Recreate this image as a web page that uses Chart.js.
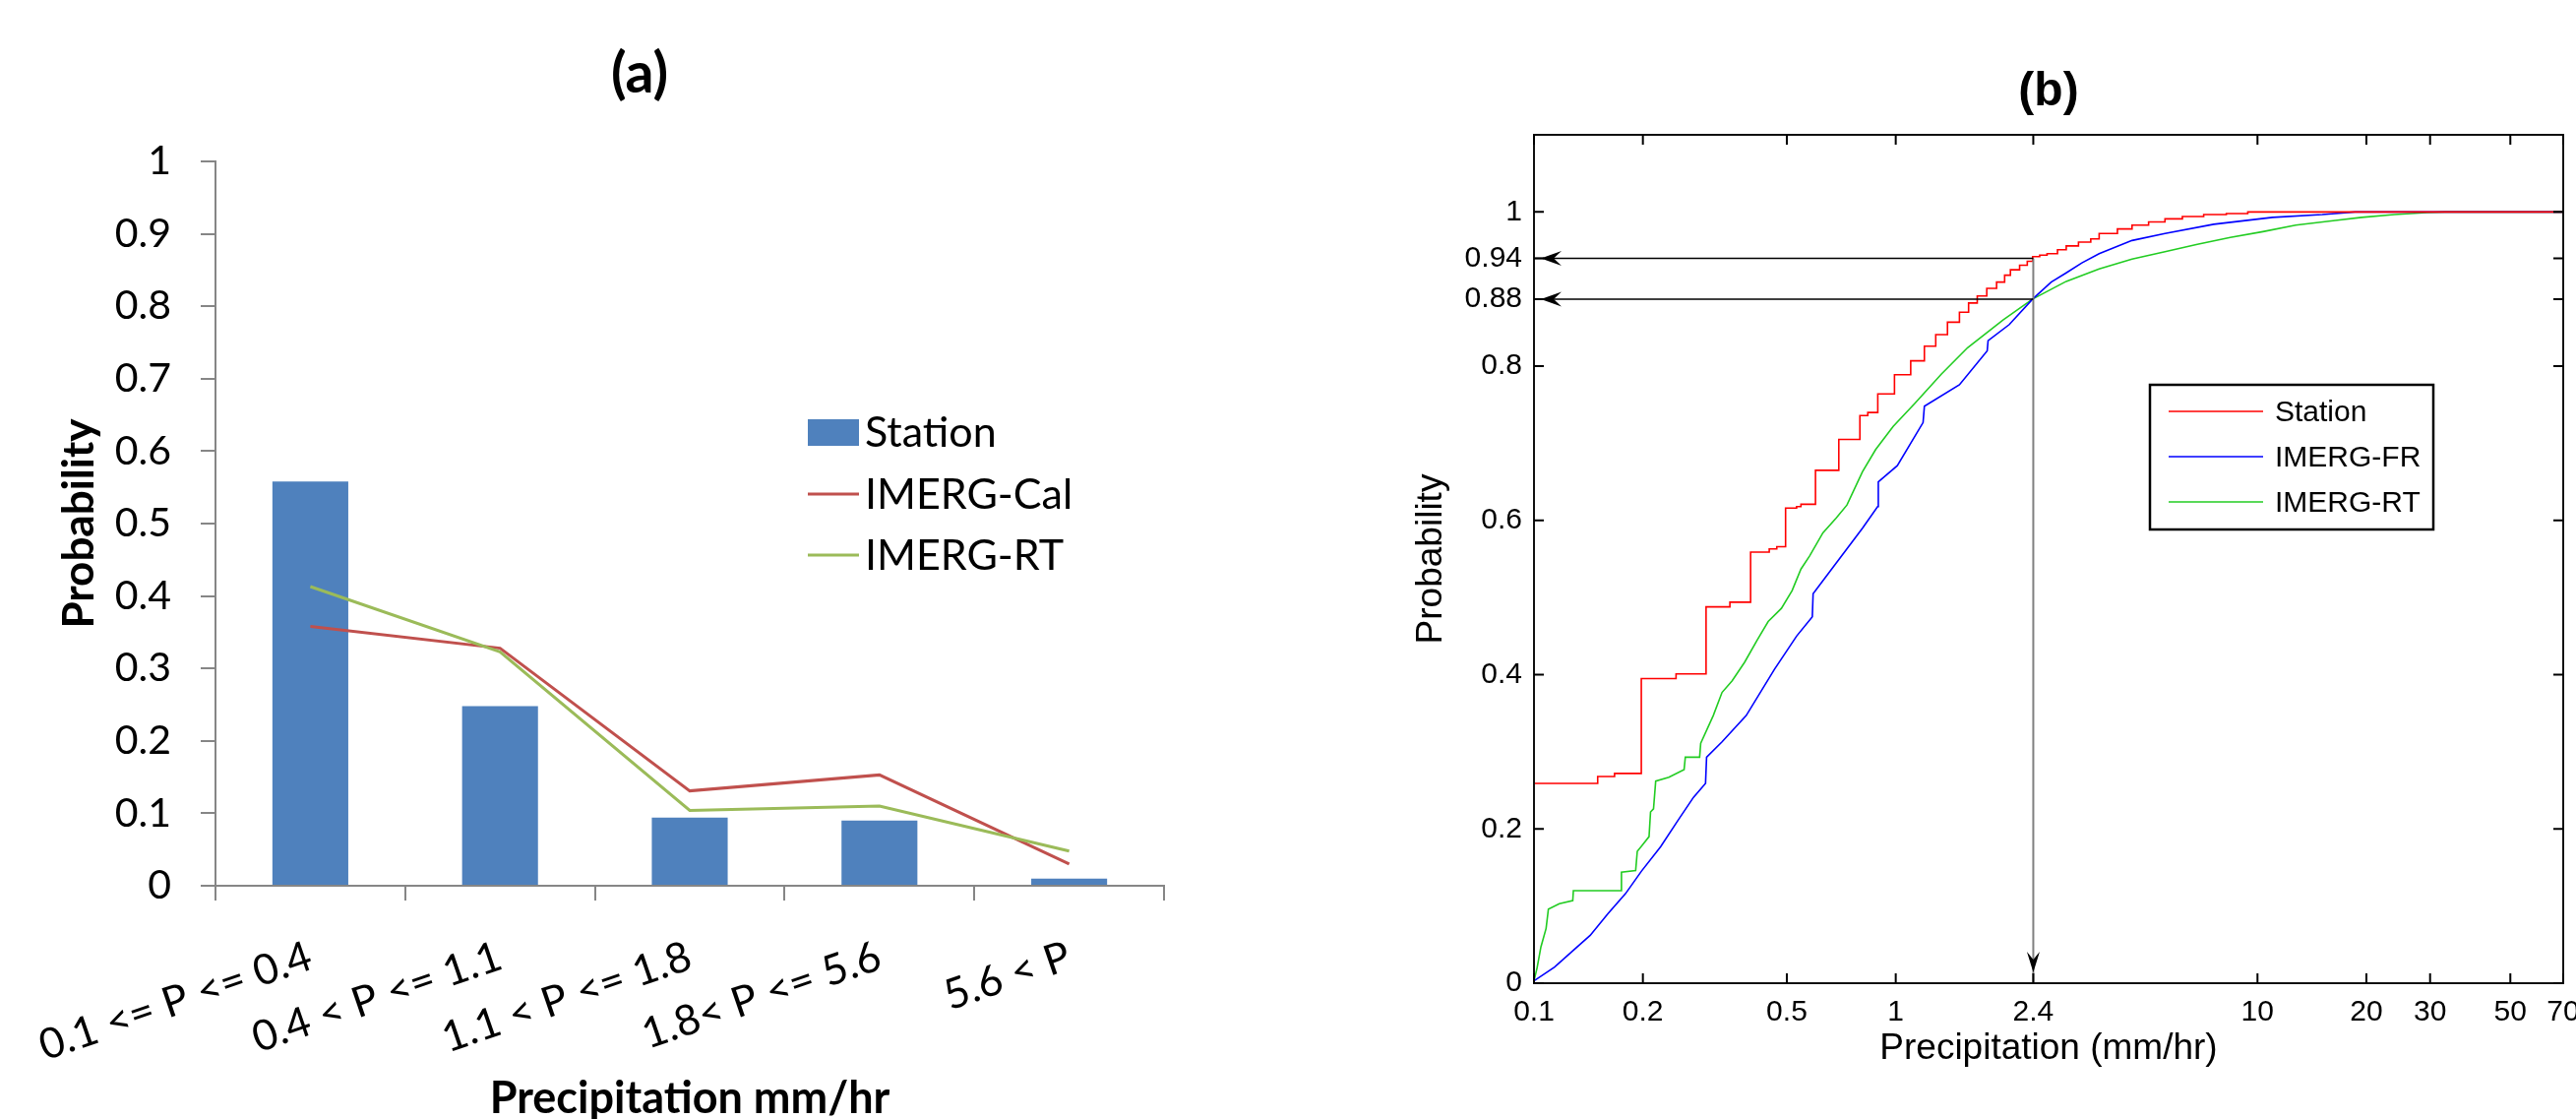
<!DOCTYPE html>
<html><head><meta charset="utf-8">
<script src="https://cdn.jsdelivr.net/npm/chart.js@4.4.1/dist/chart.umd.min.js"></script>
<style>
html,body{margin:0;padding:0;background:#fff;overflow:hidden;width:2618px;height:1137px;}
#wa{position:absolute;left:0;top:0;width:1300px;height:1137px;}
#wb{position:absolute;left:1300px;top:0;width:1318px;height:1137px;}
canvas{display:block;}
</style></head><body>
<div id="wa"><canvas id="ca" width="1300" height="1137"></canvas></div>
<div id="wb"><canvas id="cb" width="1318" height="1137"></canvas></div>
<script>
// ---------- Panel (a) data ----------
const categoriesA = ['0.1 <= P <= 0.4', '0.4 < P <= 1.1', '1.1 < P <= 1.8', '1.8< P <= 5.6', '5.6 < P'];
const stationA = [0.558, 0.248, 0.094, 0.090, 0.010];
const imergCalA = [0.358, 0.328, 0.131, 0.153, 0.030];
const imergRtA = [0.413, 0.323, 0.104, 0.110, 0.048];
const yTicksA = [0, 0.1, 0.2, 0.3, 0.4, 0.5, 0.6, 0.7, 0.8, 0.9, 1];

// ---------- Panel (b) data (x = precipitation mm/hr, y = cumulative probability) ----------
const stationB = [[0.1,0],[0.1,0.259],[0.15,0.268],[0.167,0.272],[0.198,0.395],[0.247,0.401],[0.299,0.488],[0.348,0.494],[0.397,0.559],[0.447,0.563],[0.469,0.566],[0.496,0.616],[0.532,0.618],[0.547,0.621],[0.600,0.665],[0.696,0.705],[0.796,0.736],[0.837,0.740],[0.892,0.764],[0.992,0.789],[1.10,0.807],[1.20,0.826],[1.29,0.841],[1.39,0.857],[1.50,0.870],[1.59,0.882],[1.68,0.891],[1.785,0.901],[1.90,0.909],[2.0,0.918],[2.075,0.925],[2.20,0.931],[2.31,0.936],[2.39,0.942],[2.5,0.944],[2.62,0.946],[2.8,0.951],[2.96,0.956],[3.2,0.961],[3.46,0.965],[3.65,0.972],[4.1,0.978],[4.5,0.983],[5.0,0.987],[5.55,0.991],[6.2,0.994],[7.1,0.9966],[8.2,0.998],[9.4,1.0],[70,1.0]];
const imergFrB = [[0.1,0.003],[0.114,0.021],[0.128,0.042],[0.143,0.062],[0.160,0.090],[0.179,0.116],[0.198,0.145],[0.224,0.177],[0.250,0.211],[0.276,0.241],[0.298,0.259],[0.300,0.293],[0.331,0.313],[0.386,0.347],[0.462,0.407],[0.532,0.450],[0.588,0.475],[0.591,0.505],[0.703,0.552],[0.809,0.590],[0.891,0.618],[0.895,0.650],[1.01,0.671],[1.19,0.727],[1.20,0.748],[1.50,0.776],[1.79,0.820],[1.80,0.833],[2.06,0.854],[2.39,0.887],[2.69,0.909],[2.96,0.921],[3.27,0.934],[3.65,0.946],[4.50,0.963],[5.55,0.972],[7.57,0.984],[11.0,0.993],[15.1,0.9966],[18.6,1.0],[70,1.0]];
const imergRtB = [[0.1,0.003],[0.102,0.020],[0.1045,0.047],[0.108,0.071],[0.1096,0.096],[0.1175,0.103],[0.128,0.107],[0.1285,0.120],[0.174,0.120],[0.1745,0.144],[0.191,0.146],[0.193,0.171],[0.20,0.180],[0.208,0.190],[0.210,0.222],[0.214,0.226],[0.217,0.262],[0.236,0.267],[0.26,0.277],[0.262,0.293],[0.287,0.293],[0.289,0.311],[0.313,0.347],[0.331,0.377],[0.353,0.392],[0.382,0.416],[0.414,0.445],[0.444,0.469],[0.483,0.486],[0.517,0.509],[0.547,0.537],[0.578,0.554],[0.629,0.584],[0.684,0.603],[0.733,0.620],[0.809,0.663],[0.880,0.692],[0.984,0.722],[1.13,0.752],[1.338,0.790],[1.58,0.824],[1.98,0.860],[2.39,0.887],[2.96,0.910],[3.65,0.926],[4.50,0.939],[5.55,0.9485],[6.82,0.958],[8.41,0.967],[10.35,0.9745],[12.76,0.983],[16.4,0.989],[19.4,0.993],[23.9,0.9966],[29.4,0.9992],[33,1.0],[70,1.0]];
const xTicksB = [0.1, 0.2, 0.5, 1, 2.4, 10, 20, 30, 50, 70];
const yTickValuesB = [0, 0.2, 0.4, 0.6, 0.8, 0.887, 0.94, 1];
const yTickLabelsB = ['0', '0.2', '0.4', '0.6', '0.8', '0.88', '0.94', '1'];
const refX = 2.4;
const refY = [0.94, 0.887];

// ---------- Panel (a) ----------
const legendA = {
  id: 'legendA',
  afterDraw(chart) {
    const ctx = chart.ctx, a = chart.chartArea;
    const lx = a.left + 602, ty = a.top + 262;
    ctx.save();
    ctx.font = '43px Lato';
    ctx.textBaseline = 'middle';
    const ds = chart.data.datasets;
    const bar = ds.find(d => d.label === 'Station');
    ctx.fillStyle = bar.backgroundColor;
    ctx.fillRect(lx, ty, 52, 27);
    ctx.fillStyle = '#000';
    ctx.fillText(bar.label, lx + 58, ty + 14);
    ['IMERG-Cal', 'IMERG-RT'].forEach((lab, i) => {
      const d = ds.find(q => q.label === lab);
      const yy = ty + 76 + i * 62;
      ctx.strokeStyle = d.borderColor; ctx.lineWidth = 3;
      ctx.beginPath(); ctx.moveTo(lx, yy); ctx.lineTo(lx + 52, yy); ctx.stroke();
      ctx.fillText(lab, lx + 58, yy + 1);
    });
    ctx.restore();
  }
};

new Chart(document.getElementById('ca'), {
  type: 'bar',
  data: {
    labels: categoriesA,
    datasets: [
      { type: 'line', label: 'IMERG-Cal', data: imergCalA, borderColor: '#C0504D', borderWidth: 3, pointRadius: 0, tension: 0, order: 1 },
      { type: 'line', label: 'IMERG-RT', data: imergRtA, borderColor: '#9BBB59', borderWidth: 3, pointRadius: 0, tension: 0, order: 0 },
      { type: 'bar', label: 'Station', data: stationA, backgroundColor: '#4F81BD', barPercentage: 0.4, categoryPercentage: 1, order: 2 }
    ]
  },
  options: {
    responsive: false, animation: false, devicePixelRatio: 1,
    layout: { padding: { left: 0, right: 0, top: 0, bottom: 0 } },
    plugins: {
      legend: { display: false }, tooltip: { enabled: false },
      title: { display: true, text: '(a)', color: '#000', font: { family: 'Lato', size: 57, weight: 'bold', lineHeight: 1.2 }, padding: { top: 41, bottom: 54.6 } }
    },
    scales: {
      x: {
        grid: { display: true, drawOnChartArea: false, drawTicks: true, tickLength: 15, color: '#868686', lineWidth: 2, offset: true },
        border: { display: true, color: '#868686', width: 2 },
        ticks: { color: '#000', font: { family: 'Lato', size: 43 }, minRotation: 19, maxRotation: 19, autoSkip: false, padding: 31 },
        title: { display: true, text: 'Precipitation mm/hr', color: '#000', font: { family: 'Lato', size: 45, weight: 'bold', lineHeight: 0.9 }, padding: { top: 0, bottom: 0 } },
        afterFit(s) { s.height = 237; s.paddingLeft = 0; s.paddingRight = 0; }
      },
      y: {
        min: 0, max: 1,
        afterBuildTicks(s) { s.ticks = yTicksA.map(v => ({ value: v })); },
        ticks: { color: '#000', font: { family: 'Lato', size: 41 }, padding: 30, callback: v => String(Math.round(v * 10) / 10) },
        grid: { display: true, drawOnChartArea: false, drawTicks: true, tickLength: 15, color: '#868686', lineWidth: 2 },
        border: { display: true, color: '#868686', width: 2 },
        title: { display: true, text: 'Probability', color: '#000', font: { family: 'Lato', size: 44, weight: 'bold', lineHeight: 1.2 }, padding: { top: 54, bottom: 0 } },
        afterFit(s) { s.width = 219; s.paddingTop = 0; s.paddingBottom = 0; }
      },
      spacer: {
        type: 'linear', position: 'right', display: true,
        grid: { display: false, drawTicks: false }, border: { display: false },
        ticks: { display: false },
        afterFit(s) { s.width = 117; s.paddingTop = 0; s.paddingBottom = 0; }
      }
    }
  },
  plugins: [legendA]
});

// ---------- Panel (b) ----------
function arrowHead(ctx, tx, ty, dir) {
  ctx.beginPath();
  if (dir === 'left') {
    ctx.moveTo(tx, ty); ctx.lineTo(tx + 21, ty - 7.5); ctx.lineTo(tx + 13, ty); ctx.lineTo(tx + 21, ty + 7.5);
  } else {
    ctx.moveTo(tx, ty); ctx.lineTo(tx - 6.5, ty - 21); ctx.lineTo(tx, ty - 13); ctx.lineTo(tx + 6.5, ty - 21);
  }
  ctx.closePath(); ctx.fill();
}

const decoB = {
  id: 'decoB',
  afterDraw(chart) {
    const ctx = chart.ctx, a = chart.chartArea, x = chart.scales.x, y = chart.scales.y;
    ctx.save();
    ctx.fillStyle = '#000';
    refY.forEach(v => arrowHead(ctx, x.getPixelForValue(x.min) + 7, y.getPixelForValue(v), 'left'));
    arrowHead(ctx, x.getPixelForValue(refX), y.getPixelForValue(0) - 11, 'down');
    ctx.strokeStyle = '#111'; ctx.lineWidth = 2;
    ctx.strokeRect(a.left, a.top, a.right - a.left, a.bottom - a.top);
    ctx.lineWidth = 2; ctx.strokeStyle = '#000';
    ctx.beginPath();
    xTicksB.forEach(v => {
      const px = x.getPixelForValue(v);
      ctx.moveTo(px, a.bottom); ctx.lineTo(px, a.bottom - 10);
      ctx.moveTo(px, a.top); ctx.lineTo(px, a.top + 10);
    });
    yTickValuesB.forEach(v => {
      const py = y.getPixelForValue(v);
      ctx.moveTo(a.left, py); ctx.lineTo(a.left + 10, py);
      ctx.moveTo(a.right, py); ctx.lineTo(a.right - 10, py);
    });
    ctx.stroke();
    const bx = a.left + 626, by = a.top + 254, bw = 288, bh = 147;
    ctx.fillStyle = '#fff'; ctx.fillRect(bx, by, bw, bh);
    ctx.strokeStyle = '#000'; ctx.lineWidth = 2.5; ctx.strokeRect(bx, by, bw, bh);
    ctx.font = '30px "Liberation Sans", Arial, sans-serif';
    ctx.textBaseline = 'middle';
    chart.data.datasets.filter(d => d.inLegend).forEach((d, i) => {
      const yy = by + 27 + i * 46;
      ctx.strokeStyle = d.borderColor; ctx.lineWidth = 1.5;
      ctx.beginPath(); ctx.moveTo(bx + 19, yy); ctx.lineTo(bx + 115, yy); ctx.stroke();
      ctx.fillStyle = '#000';
      ctx.fillText(d.label, bx + 127, yy + 2);
    });
    ctx.restore();
  }
};

const toPts = arr => arr.map(p => ({ x: p[0], y: p[1] }));

new Chart(document.getElementById('cb'), {
  type: 'scatter',
  data: {
    datasets: [
      { label: 'ref-h1', data: [{ x: refX, y: refY[0] }, { x: 0.1, y: refY[0] }], borderColor: '#000', borderWidth: 1.5, showLine: true, pointRadius: 0 },
      { label: 'ref-h2', data: [{ x: refX, y: refY[1] }, { x: 0.1, y: refY[1] }], borderColor: '#000', borderWidth: 1.5, showLine: true, pointRadius: 0 },
      { label: 'ref-v', data: [{ x: refX, y: refY[0] }, { x: refX, y: 0 }], borderColor: '#808080', borderWidth: 2, showLine: true, pointRadius: 0 },
      { label: 'Station', inLegend: true, data: toPts(stationB), borderColor: '#ff0000', borderWidth: 1.6, showLine: true, stepped: 'before', pointRadius: 0 },
      { label: 'IMERG-FR', inLegend: true, data: toPts(imergFrB), borderColor: '#0000ff', borderWidth: 1.6, showLine: true, pointRadius: 0 },
      { label: 'IMERG-RT', inLegend: true, data: toPts(imergRtB), borderColor: '#22cc22', borderWidth: 1.6, showLine: true, pointRadius: 0 }
    ]
  },
  options: {
    responsive: false, animation: false, devicePixelRatio: 1,
    layout: { padding: { left: 0, right: 13, top: 0, bottom: 0 } },
    plugins: {
      legend: { display: false }, tooltip: { enabled: false },
      title: { display: true, fullSize: false, text: '(b)', color: '#000', font: { family: '"Liberation Sans", Arial, sans-serif', size: 48, weight: 'bold', lineHeight: 1.2 }, padding: { top: 65, bottom: 14.4 } }
    },
    scales: {
      x: {
        type: 'logarithmic', min: 0.1, max: 70,
        afterBuildTicks(s) { s.ticks = xTicksB.map(v => ({ value: v })); },
        ticks: { color: '#000', font: { family: '"Liberation Sans", Arial, sans-serif', size: 30 }, padding: 12, autoSkip: false, maxRotation: 0, minRotation: 0, callback: v => String(v) },
        grid: { display: false, drawTicks: false },
        border: { display: true, color: '#000', width: 2 },
        title: { display: true, text: 'Precipitation (mm/hr)', color: '#000', font: { family: '"Liberation Sans", Arial, sans-serif', size: 37, lineHeight: 1.2 }, padding: { top: 0, bottom: 49 } },
        afterFit(s) { s.height = 138; s.paddingLeft = 0; s.paddingRight = 0; }
      },
      y: {
        min: 0, max: 1.1,
        afterBuildTicks(s) { s.ticks = yTickValuesB.map(v => ({ value: v })); },
        ticks: { color: '#000', font: { family: '"Liberation Sans", Arial, sans-serif', size: 30 }, padding: 12, autoSkip: false, callback: (v, i) => yTickLabelsB[i] },
        grid: { display: false, drawTicks: false },
        border: { display: true, color: '#000', width: 2 },
        title: { display: true, text: 'Probability', color: '#000', font: { family: '"Liberation Sans", Arial, sans-serif', size: 37, lineHeight: 1.2 }, padding: { top: 133, bottom: 0 } },
        afterFit(s) { s.width = 259; s.paddingTop = 0; s.paddingBottom = 0; }
      }
    }
  },
  plugins: [decoB]
});
</script>
</body></html>
